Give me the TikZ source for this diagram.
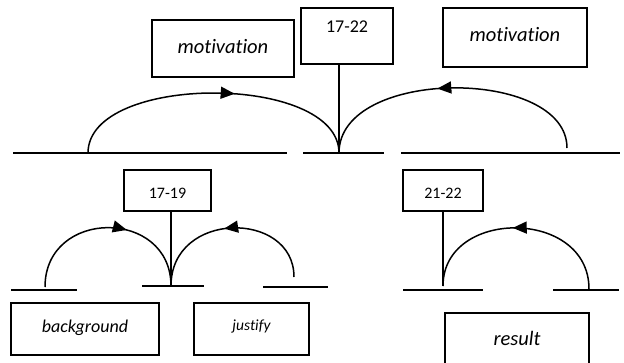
\documentclass[tikz,border=0pt]{standalone}
\usepackage{fontspec}
\setmainfont{Carlito}[Ligatures=NoCommon]
\usetikzlibrary{arrows.meta,decorations.markings}

\begin{document}
\begin{tikzpicture}[x=1pt,y=-1pt,line width=1.5pt,
    box/.style={draw,line width=1.3pt,inner xsep=2pt,inner ysep=0pt,anchor=base},
    word/.style={font=\fontsize{#1}{#1}\selectfont\itshape},
    num/.style={font=\fontsize{#1}{#1}\selectfont},
    midarrow/.style={postaction={decorate},decoration={markings,
      mark=at position #1 with {\arrow{Triangle[length=14pt,width=12pt]}}}}]
     \clip (0,0) rectangle (624,362);
     % upper level
     \coordinate (top)  at (339,153);
     \coordinate (topL) at ( 88,153);
     \coordinate (topR) at (567,148);
     \draw ( 13,153) -- (287,153);
     \draw (303,153) -- (384,153);
     \draw (401,153) -- (620,153);
     \draw[midarrow=0.57] (topL) .. controls ( 88,73) and (339,73) .. (top);
     \draw[midarrow=0.55] (topR) .. controls (567,67) and (339,67) .. (top);
     \node[box,word=20.5,minimum width=142pt,text height=33pt,text depth=24pt] (motL) at (223,53) {motivation};
     \node[box,num=18,minimum width=92pt,text height=24pt,text depth=32pt] (r1722) at (347,32) {17-22};
     \node[box,word=20.5,minimum width=144pt,text height=33pt,text depth=26pt] (motR) at (515,41) {motivation};
     \draw (top) -- (top |- r1722.south);
     % lower level, left
     \coordinate (lowA)  at (171,286);
     \coordinate (lowAL) at ( 45,287);
     \coordinate (lowAR) at (294,277);
     \draw ( 11,290) -- ( 77,290);
     \draw (142,286) -- (204,286);
     \draw (263,287) -- (328,287);
     \draw[midarrow=0.6] (lowAL) .. controls ( 45,208) and (171,208) .. (lowA);
     \draw[midarrow=0.53] (lowAR) .. controls (294,210) and (171,210) .. (lowA);
     \node[box,num=16,minimum width=87pt,text height=28pt,text depth=13pt] (r1719) at (167.5,198) {17-19};
     \draw (lowA) -- (lowA |- r1719.south);
     \node[box,word=18,minimum width=148pt,text height=29pt,text depth=23pt] (backg) at (85,332) {background};
     \node[box,word=15.5,minimum width=115pt,text height=27pt,text depth=25pt] (justi) at (251.5,330) {justify};
     % lower level, right
     \coordinate (lowB)  at (443,286);
     \coordinate (lowBR) at (589,289);
     \draw (403,290) -- (483,290);
     \draw (553,290) -- (619,290);
     \draw[midarrow=0.52] (lowBR) .. controls (589,208) and (443,208) .. (lowB);
     \node[box,num=16,minimum width=80pt,text height=28pt,text depth=13pt] (r2122) at (443,198) {21-22};
     \draw (lowB) -- (lowB |- r2122.south);
     \node[box,word=20.5,minimum width=144pt,text height=32pt,text depth=24pt] (resul) at (517,345) {result};
    \end{tikzpicture}
\end{document}
